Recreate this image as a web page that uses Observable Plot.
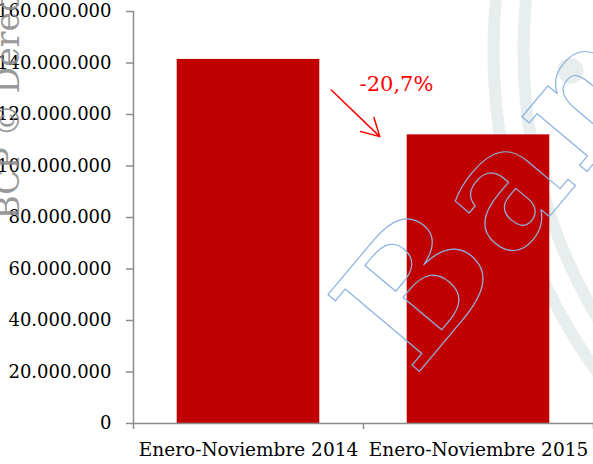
<!DOCTYPE html>
<html>
<head>
<meta charset="utf-8">
<script src="https://cdn.jsdelivr.net/npm/d3@7"></script>
<script src="https://cdn.jsdelivr.net/npm/@observablehq/plot@0.6"></script>
<style>
  html, body { margin: 0; padding: 0; background: #ffffff; overflow: hidden; }
  #chart svg { display: block; }
  #chart g[font-size="164"] text { letter-spacing: 9px; }
</style>
</head>
<body>
<div id="chart"></div>
<script>
// ---- data ----
const categories = ["Enero-Noviembre 2014", "Enero-Noviembre 2015"];
const values = [141400000, 112100000];
const yTicks = [0, 20000000, 40000000, 60000000, 80000000, 100000000, 120000000, 140000000, 160000000];

// annotation (data units: x = category slot 0..2, y = value)
const changeText = ["-20,7%"];
const changeTextPos = [1.1435, 129200000];
const arrowStart = [0.86, 129500000];
const arrowEnd = [1.071, 111400000];

// watermark decorations (data units)
const ringCenter = [3.952, 144750000];
const ringRadii = [549, 519];
const logoDot = [1.9, 137000000];
const stampText = ["BCP © Derechos reservados"];
const stampPos = [-0.4957, 79200000];
const bannerText = ["Banco Central del Paraguay"];
const bannerPos = [1.222, 18000000];

// ---- build tables ----
const bars = categories.map((c, i) => ({slot: i, cat: c, value: values[i]}));
const rings = ringRadii.map(r => ({x: ringCenter[0], y: ringCenter[1], r}));
const barGap = 0.19;

const locale = d3.formatLocale({decimal: ",", thousands: ".", grouping: [3], currency: ["", ""]});
const fmt = locale.format(",");

const axisGray = "#8c8c8c";

const chart = Plot.plot({
  width: 593,
  height: 464,
  marginLeft: 133,
  marginRight: 0,
  marginTop: 11,
  marginBottom: 41,
  style: {fontFamily: "'DejaVu Serif', serif", fontSize: "18px", background: "#ffffff", color: "#000", overflow: "visible"},
  x: {type: "linear", domain: [0, 2], axis: null},
  y: {domain: [0, 160000000], axis: null, label: null},
  r: {type: "identity"},
  marks: [
    // watermark rings and dot
    Plot.dot(rings, {x: "x", y: "y", r: "r", stroke: "#e8edee", strokeWidth: 12, fill: "none"}),
    Plot.dot([logoDot], {x: d => d[0], y: d => d[1], r: 13, fill: "#e8edee", stroke: "none"}),
    // bars
    Plot.rectY(bars, {x1: d => d.slot + barGap, x2: d => d.slot + 1 - barGap, y: "value", fill: "#c00000"}),
    // axes
    Plot.axisY(yTicks, {anchor: "left", tickSize: 7, tickPadding: 15, tickFormat: fmt, stroke: axisGray, strokeWidth: 1.5, fill: "#000", label: null}),
    Plot.axisX([0, 1, 2], {anchor: "bottom", tickSize: 6, tickFormat: () => "", stroke: axisGray, strokeWidth: 1.5, label: null}),
    Plot.axisX([0.5, 1.5], {anchor: "bottom", tickSize: 0, tickPadding: 19, tickFormat: d => categories[Math.floor(d)], fill: "#000", fontSize: 18.5, label: null}),
    Plot.ruleX([0], {stroke: axisGray, strokeWidth: 1.5}),
    Plot.ruleY([0], {stroke: axisGray, strokeWidth: 1.5}),
    // annotation
    Plot.arrow([{a: arrowStart, b: arrowEnd}], {
      x1: d => d.a[0], y1: d => d.a[1], x2: d => d.b[0], y2: d => d.b[1],
      stroke: "#ff0000", strokeWidth: 1.5, headLength: 20, headAngle: 58
    }),
    Plot.text(changeText, {
      x: () => changeTextPos[0], y: () => changeTextPos[1], text: d => d,
      fill: "#ff0000", fontSize: 21, textAnchor: "middle", lineAnchor: "bottom"
    }),
    // watermark texts
    Plot.text(bannerText, {
      x: () => bannerPos[0], y: () => bannerPos[1], text: d => d,
      rotate: -50, fontSize: 164, fontWeight: "bold", fill: "none", stroke: "#8db3e2", strokeWidth: 1.2,
      textAnchor: "start", lineAnchor: "bottom"
    }),
    Plot.text(stampText, {
      x: () => stampPos[0], y: () => stampPos[1], text: d => d,
      rotate: -90, fontSize: 33, fill: "#8c8c8c", fillOpacity: 0.9,
      textAnchor: "start", lineAnchor: "bottom"
    })
  ]
});

document.getElementById("chart").append(chart);
</script>
</body>
</html>
